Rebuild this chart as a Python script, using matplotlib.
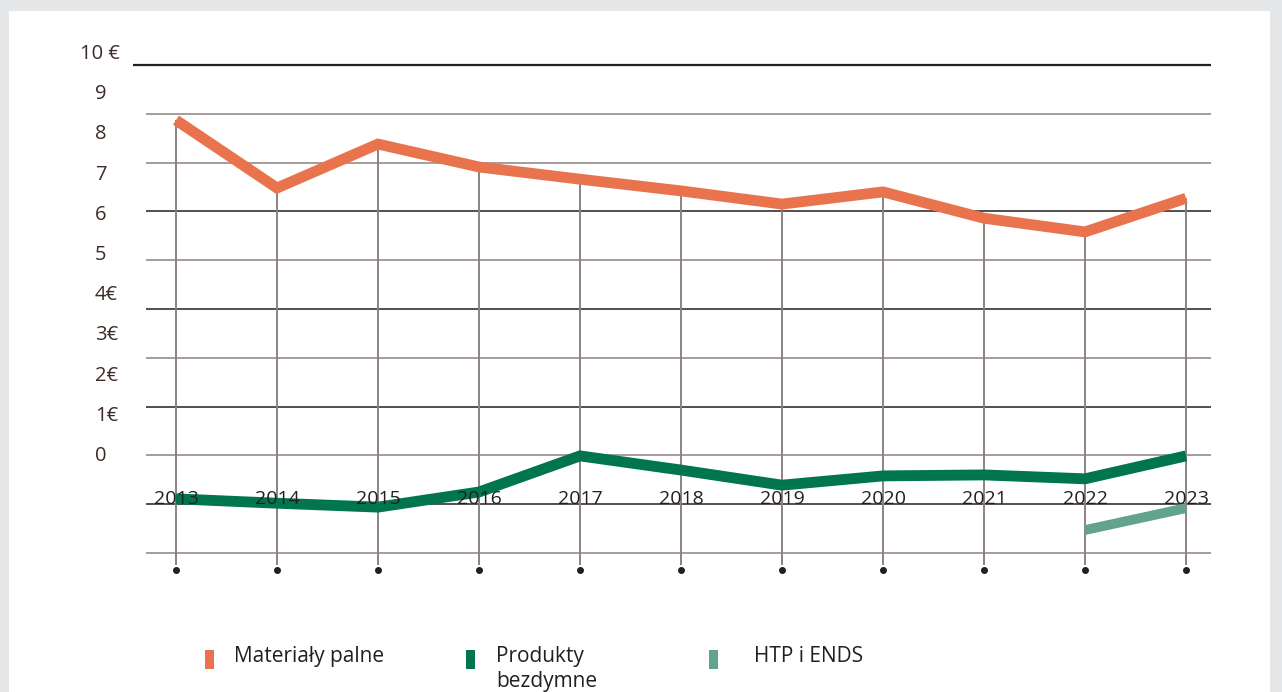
import matplotlib
matplotlib.use("Agg")
import matplotlib.pyplot as plt
from matplotlib.patches import Rectangle
from matplotlib.transforms import blended_transform_factory

# data (in gridline units)
years = [2013, 2014, 2015, 2016, 2017, 2018, 2019, 2020, 2021, 2022, 2023]
combustible = [8.87, 7.48, 8.38, 7.91, 7.66, 7.42, 7.15, 7.40, 6.86, 6.58, 7.27]
smokeless = [1.11, 1.02, 0.94, 1.25, 1.99, 1.70, 1.39, 1.58, 1.60, 1.52, 1.99]
htp_years = [2022, 2023]
htp_ends = [0.47, 0.92]

y_labels = ["0", "1€", "2€", "3€", "4€", "5", "6", "7", "8", "9", "10 €"]
legend_labels = ["Materiały palne", "Produkty\nbezdymne", "HTP i ENDS"]

c_orange = "#e9734d"
c_green = "#00754f"
c_light = "#62a38b"
c_dark = "#231f20"
c_gray = "#8c8280"
c_text = "#3d2b27"

plt.rcParams['font.family'] = ['Open Sans', 'DejaVu Sans']

W, H = 1282, 692
fig = plt.figure(figsize=(W / 100, H / 100), dpi=100)
fig.patch.set_facecolor("#e6e7e8")
fig.patches.append(Rectangle((9 / W, 0), 1261 / W, (H - 11) / H,
                             transform=fig.transFigure, facecolor="white",
                             edgecolor="none", zorder=-5))

# axes placed in pixels: left 133, right 1211, top 60, bottom 580
ax = fig.add_axes([133 / W, (H - 580) / H, (1211 - 133) / W, 520 / H])
ax.set_facecolor("none")
ax.set_xlim(2013 + (133 - 176) / 101, 2013 + (1211 - 176) / 101)
ax.set_ylim((553 - 580) / 48.8, (553 - 60) / 48.8)
ax.axis("off")

# horizontal gridlines
grid_colors = [c_gray, c_dark, c_gray, c_dark, c_gray, c_dark, c_gray,
               c_dark, c_gray, c_gray, c_dark]
x_grid0 = 2013 + (146 - 176) / 101
for v, col in enumerate(grid_colors):
    if v == 10:
        ax.hlines(v, ax.get_xlim()[0], ax.get_xlim()[1], color=col, lw=1.6, zorder=1)
    else:
        ax.hlines(v, x_grid0, ax.get_xlim()[1], color=col, lw=1.1, zorder=1)

# vertical lines from the combustible line down, with dots at the bottom
y_bottom = (553 - 565) / 48.8
ax.vlines(years, y_bottom, combustible, color=c_gray, lw=1.4, zorder=2)
ax.plot(years, [(553 - 570) / 48.8] * len(years), "o", color=c_dark, ms=4, zorder=2)

line_kw = dict(solid_capstyle="butt", solid_joinstyle="miter", zorder=3)
ax.plot(years, combustible, color=c_orange, lw=7.8, **line_kw)
ax.plot(years, smokeless, color=c_green, lw=7.8, **line_kw)
ax.plot(htp_years, htp_ends, color=c_light, lw=7.0, **line_kw)

# year labels sit on top of the lines
for yr in years:
    ax.text(yr, (553 - 499) / 48.8, str(yr), ha="center", va="center",
            fontsize=14, color=c_dark, zorder=4)

# y labels on their own (mismatched) scale
ax_lab = ax.twinx()
ax_lab.set_ylim((456 - 580) / 40.2, (456 - 60) / 40.2)
ax_lab.axis("off")
tr = blended_transform_factory(fig.transFigure, ax_lab.transData)
for k, lab in enumerate(y_labels):
    x = 80 if k == 10 else 95
    ax_lab.text(x / W, k, lab, transform=tr, ha="left", va="center",
                fontsize=14.5, color=c_text)

# legend
legend_colors = [c_orange, c_green, c_light]
legend_x = [205, 466, 709]
text_x = [234, 496, 754]
for lab, col, xs, xt in zip(legend_labels, legend_colors, legend_x, text_x):
    fig.patches.append(Rectangle((xs / W, (H - 669) / H), 9 / W, 19 / H,
                                 transform=fig.transFigure, facecolor=col,
                                 edgecolor="none"))
    fig.text(xt / W, (H - 646) / H, lab, ha="left", va="top", fontsize=15,
             color=c_dark, linespacing=1.28)

fig.savefig("out.png", dpi=100, facecolor=fig.get_facecolor())
